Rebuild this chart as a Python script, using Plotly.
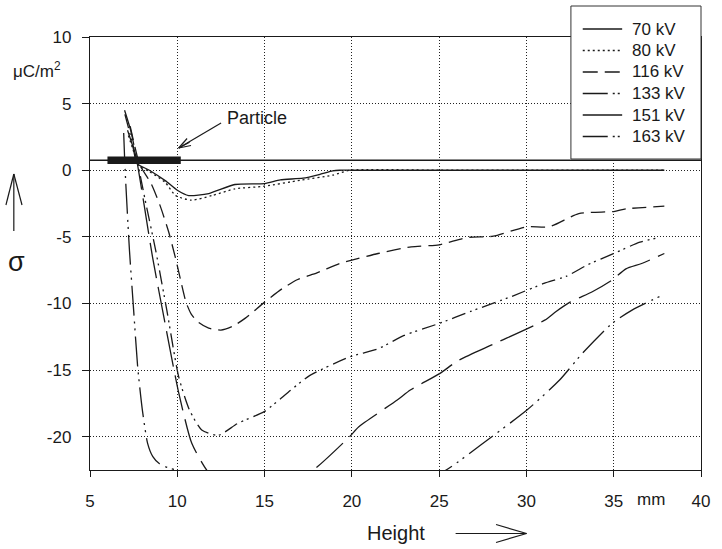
import plotly.graph_objects as go

# ---------------- data ----------------
x_70 = [7.15, 7.45, 7.7, 8.4, 9.33, 10.0, 10.65, 11.8, 13.3, 15.0, 15.9, 17.2, 18.2, 18.9, 19.3, 20, 25, 30, 35, 37.9]
y_70 = [3.0, 1.8, 0.5, 0.0, -0.8, -1.5, -1.9, -1.75, -1.07, -1.0, -0.72, -0.6, -0.3, -0.05, 0, 0, 0, 0, 0, 0]

x_80 = [7.2, 7.5, 7.75, 8.4, 9.3, 9.9, 10.8, 12.0, 13.3, 15.0, 17.05, 18.9, 19.9, 25, 30, 35, 37.9]
y_80 = [2.6, 1.4, 0.4, -0.1, -0.9, -1.9, -2.25, -1.9, -1.4, -1.2, -0.75, -0.37, 0, 0, 0, 0, 0]

x_116 = [7.3, 7.6, 7.85, 8.5, 9.0, 9.5, 9.9, 10.2, 10.5, 10.8, 11.2, 11.8, 12.5, 13.2, 13.9, 15.0, 16.0, 16.9, 18.0,
         19.3, 20.0, 21.5, 23.4, 25.0, 26.6, 28.1, 30.0, 31.3, 33.0, 35.0, 35.7, 37.9]
y_116 = [3.3, 1.6, 0.4, -1.0, -2.6, -4.6, -6.6, -8.3, -9.9, -10.8, -11.4, -11.85, -12.0, -11.7, -11.1, -9.9, -8.9, -8.2,
         -7.7, -7.0, -6.75, -6.25, -5.75, -5.6, -5.05, -4.95, -4.25, -4.25, -3.25, -3.1, -2.9, -2.7]

x_133 = [7.0, 7.4, 7.75, 8.2, 8.76, 9.4, 10.08, 10.7, 11.4, 12.34, 13.47, 15.0, 16.5, 17.6, 19.9, 21.5, 23.0,
         25.0, 26.8, 29.1, 31.0, 32.3, 33.5, 35.0, 36.5, 37.6]
y_133 = [4.2, 2.2, 0.4, -2.5, -6.0, -10.5, -15.5, -18.0, -19.5, -19.9, -19.0, -18.1, -16.5, -15.4, -14.0, -13.4, -12.4,
         -11.5, -10.6, -9.5, -8.5, -7.95, -7.1, -6.25, -5.4, -5.05]

x_151 = [6.98, 7.35, 7.7, 8.1, 8.58, 9.3, 10.08, 10.83, 11.68, 12.5, 14.0, 16.0, 17.8, 19.87, 20.4, 22.6, 23.35,
         25.05, 26.07, 28.2, 31.05, 31.7, 32.5, 33.8, 34.9, 35.7, 36.6, 37.9]
y_151 = [4.5, 2.9, 0.6, -2.6, -6.5, -11.5, -16.7, -20.5, -22.5, -23.6, -24.3, -23.9, -22.5, -20.0, -19.25, -17.25, -16.5,
         -15.25, -14.3, -13.0, -11.25, -10.6, -9.9, -9.1, -8.25, -7.4, -7.0, -6.25]

x_163 = [6.93, 6.98, 7.05, 7.26, 7.5, 7.73, 8.0, 8.3, 8.6, 8.95, 9.5, 9.9, 11.0, 14.0, 18.0, 22.0, 25.4, 27.4, 30.03,
         31.9, 33.2, 34.9, 36.05, 37.75]
y_163 = [2.8, 1.0, -1.0, -6.0, -10.5, -14.75, -18.0, -20.5, -21.5, -22.0, -22.35, -22.5, -23.2, -24.5, -25.0, -24.5,
         -22.5, -20.6, -18.0, -15.75, -13.75, -11.5, -10.5, -9.4]

series_names = ["70 kV", "80 kV", "116 kV", "133 kV", "151 kV", "163 kV"]
series_x = [x_70, x_80, x_116, x_133, x_151, x_163]
series_y = [y_70, y_80, y_116, y_133, y_151, y_163]

x_ticks = [5, 10, 15, 20, 25, 30, 35, 40]
x_ticktext = ["5", "10", "15", "20", "25", "30", "35", "40"]
y_ticks = [-20, -15, -10, -5, 0, 5, 10]
y_ticktext = ["-20", "-15", "-10", "-5", "0", "5", "10"]

particle_x = [6.0, 10.2]
plane_y = 0.75

# ---------------- styles ----------------
dashes = ["solid", "2px,3px", "14px,7px", "14px,5px,2px,4px,2px,5px", "36px,9px", "30px,6px,2px,5px,2px,6px"]
legend_dashes = ["solid", "2px,3px", "15px,7px,15px", "25px,5px,2px,3px,2px", "solid", "25px,5px,2px,3px,2px"]
FONT = "Liberation Sans, Arial, sans-serif"
INK = "#1a1a1a"

W, H = 722, 549
L, R, T, B = 90, 12, 37, 79
PW, PH = W - L - R, H - T - B


def px(v):
    return (v - L) / PW


def py(v):
    return (H - B - v) / PH


fig = go.Figure()
for name, xs, ys, d in zip(series_names, series_x, series_y, dashes):
    fig.add_trace(go.Scatter(
        x=xs, y=ys, name=name, mode="lines",
        line=dict(color=INK, width=1.3, dash=d, shape="spline", smoothing=0.6),
        showlegend=False, hoverinfo="skip"))

shapes = []
# plane line and particle bar
shapes.append(dict(type="line", xref="paper", yref="y", x0=0, x1=1, y0=plane_y, y1=plane_y,
                   line=dict(color=INK, width=1.4), layer="above"))
shapes.append(dict(type="line", xref="x", yref="y", x0=particle_x[0], x1=particle_x[1], y0=plane_y, y1=plane_y,
                   line=dict(color=INK, width=7.5), layer="above"))


def pline(x0, y0, x1, y1, w=1.2):
    shapes.append(dict(type="line", xref="paper", yref="paper", x0=px(x0), y0=py(y0), x1=px(x1), y1=py(y1),
                       line=dict(color=INK, width=w), layer="above"))


# Particle arrow
pline(223, 123, 180, 148)
pline(192.5, 145.5, 180, 148)
pline(188.5, 138.5, 180, 148)
pline(191, 142.3, 180, 148)
# sigma up arrow
pline(12.7, 231, 12.7, 174)
pline(4.7, 205, 12.7, 174)
pline(21, 205, 12.7, 174)
# Height right arrow
pline(461, 533.5, 533, 533.5)
pline(502, 524.5, 533, 533.5)
pline(502, 542.5, 533, 533.5)

# legend box drawn by hand to match the reference layout
shapes.append(dict(type="rect", xref="paper", yref="paper", x0=px(578), x1=px(710), y0=py(159), y1=py(6),
                   fillcolor="white", line=dict(color="#333", width=1), layer="above"))
leg_y = [29, 50.5, 72, 93.5, 115, 136.5]
annotations = []
for name, ly, d in zip(series_names, leg_y, legend_dashes):
    shapes.append(dict(type="line", xref="paper", yref="paper", x0=px(590), x1=px(630), y0=py(ly), y1=py(ly),
                       line=dict(color=INK, width=1.3, dash=d), layer="above"))
    annotations.append(dict(text=name, xref="paper", yref="paper", x=px(638), y=py(ly), xanchor="left",
                            yanchor="middle", showarrow=False, font=dict(size=17, color=INK, family=FONT)))


def ptext(text, x, y, size=17, xanchor="center"):
    annotations.append(dict(text=text, xref="paper", yref="paper", x=px(x), y=py(y), xanchor=xanchor,
                            yanchor="middle", showarrow=False, font=dict(size=size, color=INK, family=FONT)))


ptext("Particle", 227, 118, size=18, xanchor="left")
ptext("μC/m<sup>2</sup>", 36, 70)
ptext("mm", 659, 499)
ptext("Height", 401, 533, size=20)
ptext("σ", 15, 262, size=27)

axis_common = dict(showline=True, linecolor=INK, linewidth=1.3, mirror=True, ticks="outside",
                   tickcolor=INK, tickwidth=1.2, showgrid=True, gridcolor="#222", gridwidth=1,
                   griddash="1px,2px", zeroline=False, tickfont=dict(size=17, color=INK, family=FONT))

fig.update_layout(
    width=W, height=H,
    margin=dict(l=L, r=R, t=T, b=B),
    paper_bgcolor="white", plot_bgcolor="white",
    showlegend=False,
    xaxis=dict(range=[5, 40], tickvals=x_ticks, ticktext=x_ticktext, ticklen=6, ticklabelstandoff=9,
               **axis_common),
    yaxis=dict(range=[-22.5, 10], tickvals=y_ticks, ticktext=y_ticktext, ticklen=7, ticklabelstandoff=7,
               **axis_common),
    shapes=shapes,
    annotations=annotations,
    font=dict(family=FONT, color=INK),
)

fig.write_html("out.html")
